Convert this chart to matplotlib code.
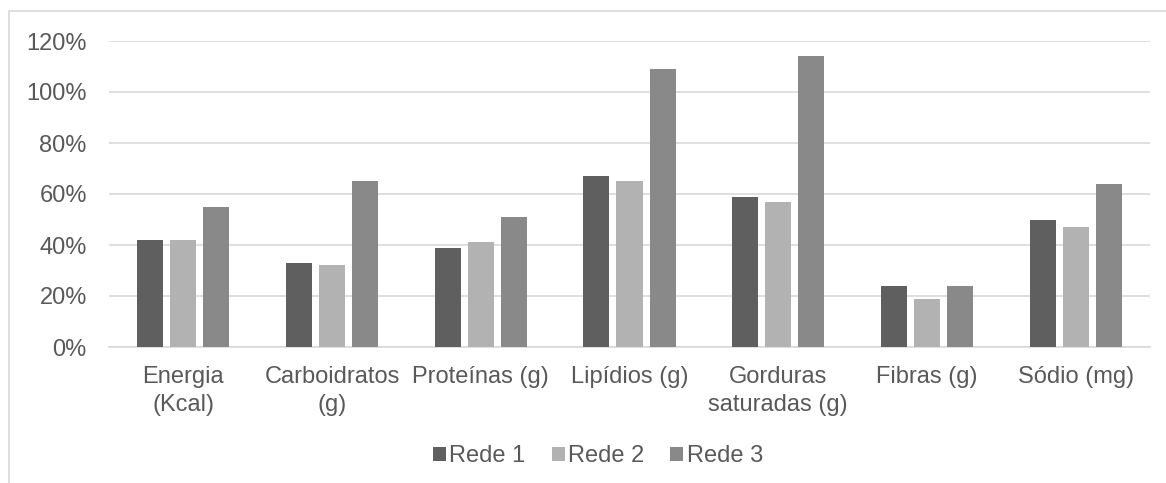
import matplotlib
matplotlib.use("Agg")
import matplotlib.pyplot as plt
import numpy as np
from matplotlib.patches import Rectangle

categories = ["Energia\n(Kcal)", "Carboidratos\n(g)", "Proteínas (g)", "Lipídios (g)",
              "Gorduras\nsaturadas (g)", "Fibras (g)", "Sódio (mg)"]
rede1 = [42, 33, 39, 67, 59, 24, 50]
rede2 = [42, 32, 41, 65, 57, 19, 47]
rede3 = [55, 65, 51, 109, 114, 24, 64]
series_names = ["Rede 1", "Rede 2", "Rede 3"]
colors = ["#5f5f5f", "#b2b2b2", "#898989"]
yticks = [0, 20, 40, 60, 80, 100, 120]

plt.rcParams['font.family'] = ['Liberation Sans', 'DejaVu Sans']

W, H = 1166, 483
fig = plt.figure(figsize=(W / 100, H / 100), dpi=100)
ax = fig.add_axes([109 / W, 1 - 347 / H, (1150 - 109) / W, (347 - 41) / H])

x = np.arange(len(categories))
bw = 0.175
step = 0.222
handles = []
for i, (vals, name, c) in enumerate(zip([rede1, rede2, rede3], series_names, colors)):
    h = ax.bar(x + (i - 1) * step, vals, width=bw, color=c, label=name, zorder=3)
    handles.append(h)

fs = 17
ax.set_xlim(-0.5, len(categories) - 0.5)
ax.set_ylim(0, 120)
ax.set_yticks(yticks)
ax.set_yticklabels([f"{v}%" for v in yticks])
ax.set_xticks(x)
ax.set_xticklabels(categories, linespacing=1.32)
ax.tick_params(axis='both', length=0, labelsize=fs, colors="#595959")
ax.tick_params(axis='x', pad=14)
ax.tick_params(axis='y', pad=16)
ax.grid(axis='y', color="#d9d9d9", linewidth=1.2, zorder=0)
for s in ["top", "right", "left"]:
    ax.spines[s].set_visible(False)
ax.spines["bottom"].set_color("#d9d9d9")
ax.spines["bottom"].set_linewidth(1.2)

leg = fig.legend(handles=handles, labels=series_names, loc="center",
                 bbox_to_anchor=(598 / W, 1 - 456 / H), ncol=3, frameon=False,
                 fontsize=fs, handlelength=0.55, handleheight=0.55,
                 handletextpad=0.15, columnspacing=1.1)
for t in leg.get_texts():
    t.set_color("#595959")

fig.patches.append(Rectangle((9 / W, -0.1), 1.2, 1 - 11 / H + 0.1,
                             transform=fig.transFigure, fill=False,
                             edgecolor="#d9d9d9", linewidth=1.2))

fig.savefig("out.png", dpi=100)
